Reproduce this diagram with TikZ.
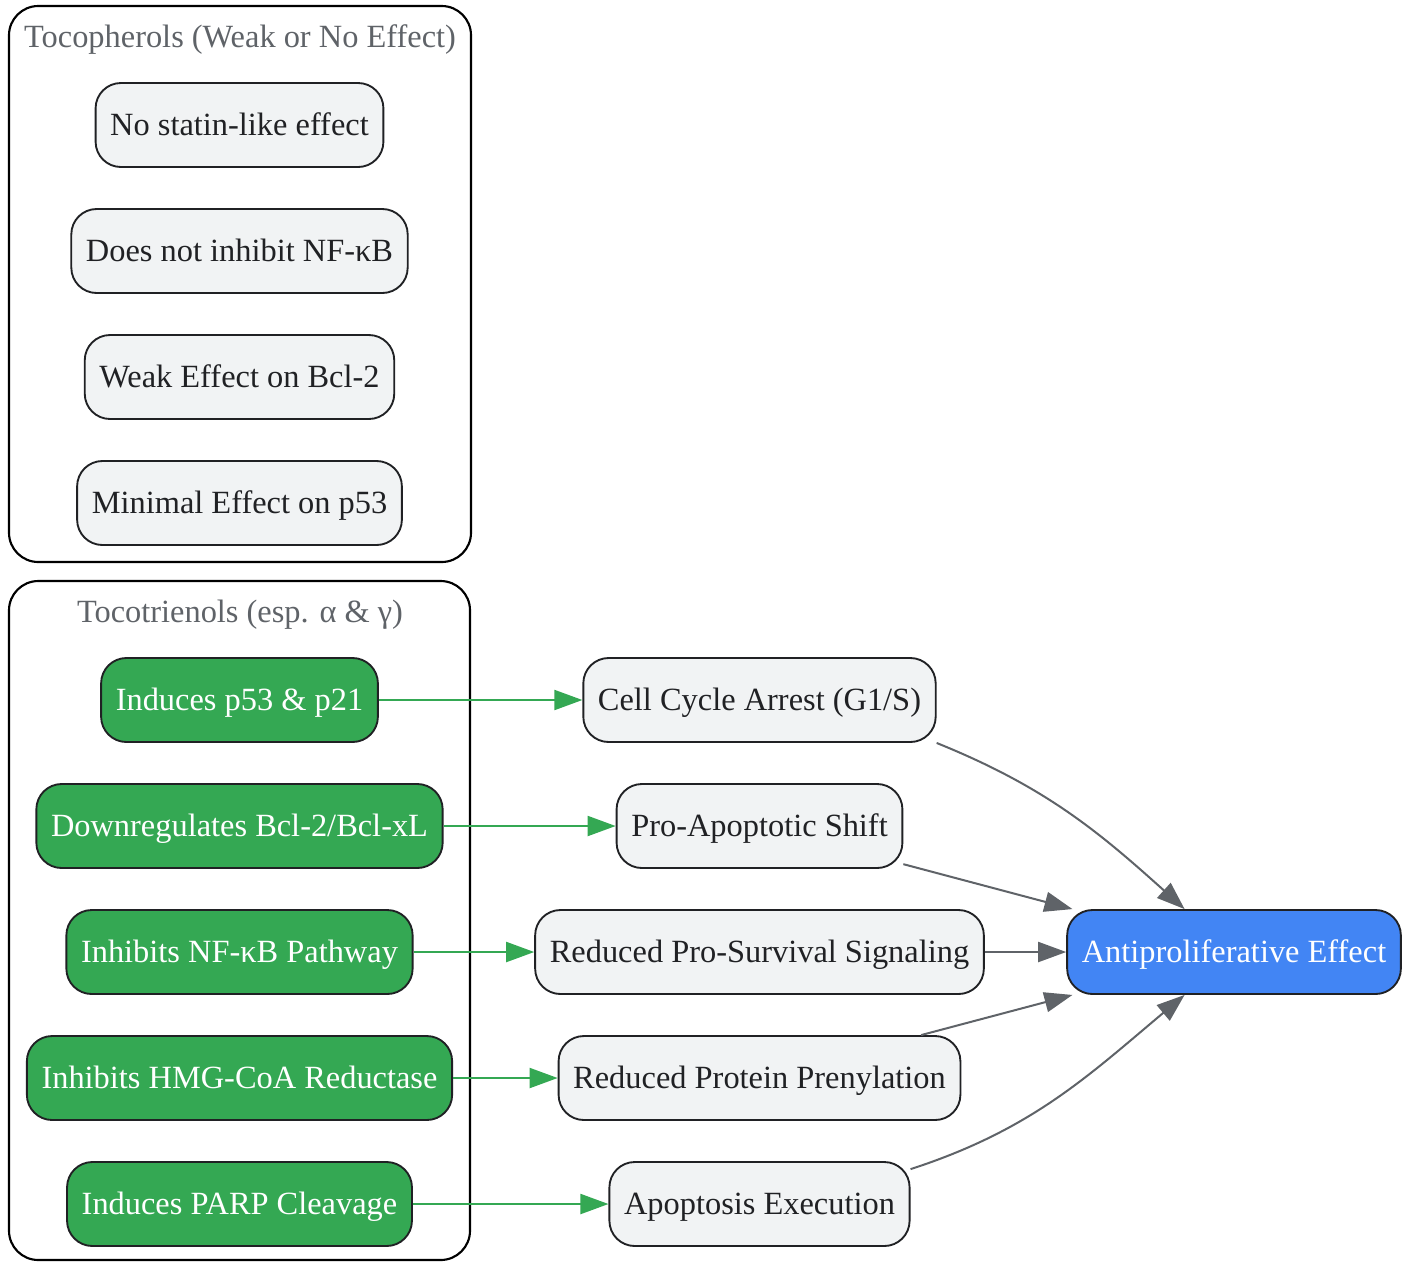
\documentclass[tikz,border=0pt]{standalone}
\usepackage{fontspec}
\setmainfont{Liberation Serif}
\usetikzlibrary{arrows.meta,positioning}
\definecolor{inkdark}{HTML}{202124}
\definecolor{inkgray}{HTML}{5F6368}
\definecolor{paleface}{HTML}{F1F3F4}
\definecolor{leafgreen}{HTML}{34A853}
\definecolor{skyblue}{HTML}{4285F4}

\begin{document}
\begin{tikzpicture}[x=0.75pt,y=0.75pt,->,>={Triangle[length=21pt,width=15pt]},
                    line width=1.5pt,node distance=94.5pt,
                    font=\fontsize{24.3pt}{29pt}\selectfont]
   \tikzstyle{box}=[draw=inkdark,line width=1.4pt,rounded corners=19pt,
                    minimum height=63pt,inner xsep=11pt,text height=22pt,text depth=6pt,
                    fill=paleface,text=inkdark]
   \tikzstyle{agent}=[box,fill=leafgreen,text=white]
   \tikzstyle{goal}=[box,fill=skyblue,text=white]
   \tikzstyle{cluster}=[-,draw=black,line width=1.6pt,rounded corners=22pt]
   \tikzstyle{clabel}=[text=inkgray,text height=22pt,text depth=6pt]
   \tikzstyle{act}=[draw=leafgreen,leafgreen]
   \tikzstyle{res}=[draw=inkgray,inkgray]

   \useasboundingbox (0,0) rectangle (1412,-1261);

   % tocopherol group
   \draw[cluster] (9,-6) rectangle (471,-562);
   \node[clabel] (tplabel) at (240,-37) {Tocopherols (Weak or No Effect)};
   \node[box] (tp1) at (239.5,-125)  {No statin-like effect};
   \node[box] (tp2) [below of=tp1]   {Does not inhibit NF-κB};
   \node[box] (tp3) [below of=tp2]   {Weak Effect on Bcl-2};
   \node[box] (tp4) [below of=tp3]   {Minimal Effect on p53};

   % tocotrienol group
   \draw[cluster] (9,-581) rectangle (470,-1260);
   \node[clabel] (ttlabel) at (240,-612) {Tocotrienols (esp. α \& γ)};
   \node[agent] (tt1) at (239.5,-700) {Induces p53 \& p21};
   \node[agent] (tt2) [below of=tt1]  {Downregulates Bcl-2/Bcl-xL};
   \node[agent] (tt3) [below of=tt2]  {Inhibits NF-κB Pathway};
   \node[agent] (tt4) [below of=tt3]  {Inhibits HMG-CoA Reductase};
   \node[agent] (tt5) [below of=tt4]  {Induces PARP Cleavage};

   % outcomes
   \node[box] (cc) at (759.5,-700) {Cell Cycle Arrest (G1/S)};
   \node[box] (pa) [below of=cc]   {Pro-Apoptotic Shift};
   \node[box] (rs) [below of=pa]   {Reduced Pro-Survival Signaling};
   \node[box] (rp) [below of=rs]   {Reduced Protein Prenylation};
   \node[box] (ae) [below of=rp]   {Apoptosis Execution};

   \node[goal] (ap) at (1234,-952) {Antiproliferative Effect};

   \path (tt1) edge [act] (cc)
         (tt2) edge [act] (pa)
         (tt3) edge [act] (rs)
         (tt4) edge [act] (rp)
         (tt5) edge [act] (ae);

   \path (cc.south east) edge [res,out=-22,in=138] (ap.139)
         (pa) edge [res] (ap)
         (rs) edge [res] (ap)
         (rp) edge [res] (ap)
         (ae.13) edge [res,out=18,in=220] (ap.221);
\end{tikzpicture}
\end{document}
